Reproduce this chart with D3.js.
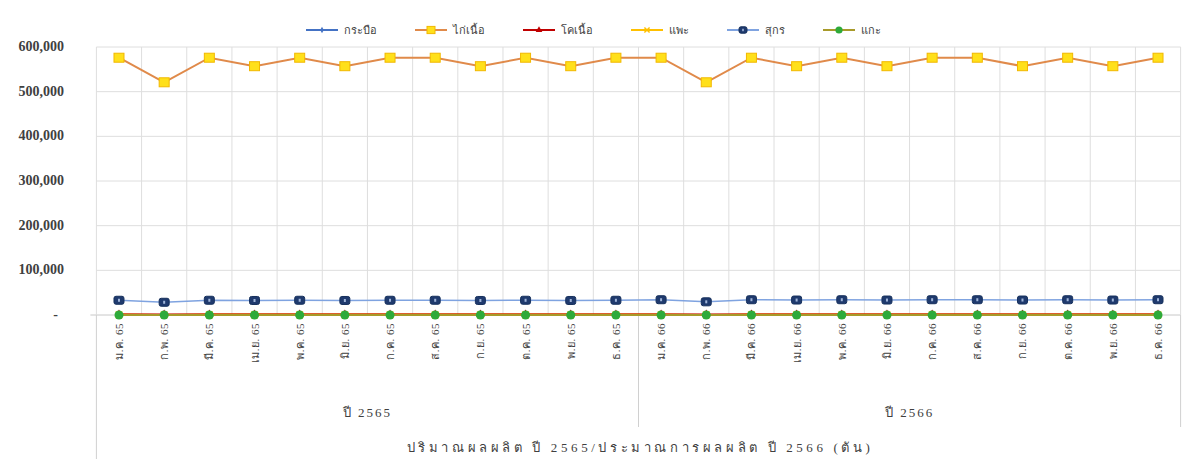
<!DOCTYPE html>
<html>
<head>
<meta charset="utf-8">
<script src="https://cdn.jsdelivr.net/npm/d3@7"></script>
<style>
  body { margin: 0; background: #fff; }
  svg { display: block; }
  .tick-lbl { font-family: "Liberation Serif", "DejaVu Serif", serif; font-weight: bold; font-size: 14px; fill: #404040; }
  .thai { font-family: "Liberation Serif", "Noto Sans", "DejaVu Sans", serif; fill: #404040; }
</style>
</head>
<body>
<svg id="chart"></svg>
<script>
// categories
const months = ['ม.ค.', 'ก.พ.', 'มี.ค.', 'เม.ย.', 'พ.ค.', 'มิ.ย.', 'ก.ค.', 'ส.ค.', 'ก.ย.', 'ต.ค.', 'พ.ย.', 'ธ.ค.'];
const years = ['2565', '2566'];
const yearShort = ['65', '66'];
const yTicks = [0, 100000, 200000, 300000, 400000, 500000, 600000];
const axisTitle = 'ปริมาณผลผลิต ปี 2565/ประมาณการผลผลิต ปี 2566 (ตัน)';

// series values (tons), 24 months: 2565 then 2566
const buffalo = [400, 360, 400, 390, 400, 390, 400, 400, 390, 400, 390, 400,
  400, 360, 400, 390, 400, 390, 400, 400, 390, 400, 390, 400];
const broiler = [576000, 521000, 576000, 557000, 576000, 557000, 576000, 576000, 557000, 576000, 557000, 576000,
  576000, 521000, 576000, 557000, 576000, 557000, 576000, 576000, 557000, 576000, 557000, 576000];
const beef = [1500, 1400, 1500, 1450, 1500, 1450, 1500, 1500, 1450, 1500, 1450, 1500,
  1500, 1400, 1500, 1450, 1500, 1450, 1500, 1500, 1450, 1500, 1450, 1500];
const goat = [300, 280, 300, 290, 300, 290, 300, 300, 290, 300, 290, 300,
  300, 280, 300, 290, 300, 290, 300, 300, 290, 300, 290, 300];
const pork = [33000, 28500, 33000, 32500, 33000, 32500, 33000, 33000, 32500, 33000, 32500, 33000,
  34200, 29500, 34200, 33500, 34200, 33500, 34200, 34200, 33500, 34200, 33500, 34200];
const sheep = [20, 18, 20, 19, 20, 19, 20, 20, 19, 20, 19, 20,
  20, 18, 20, 19, 20, 19, 20, 20, 19, 20, 19, 20];

const seriesNames = ['กระบือ', 'ไก่เนื้อ', 'โคเนื้อ', 'แพะ', 'สุกร', 'แกะ'];

const series = [
  { name: seriesNames[0], values: buffalo, line: '#4472C4', fill: '#4472C4', stroke: '#4472C4', marker: 'diamond', w: 1.5 },
  { name: seriesNames[1], values: broiler, line: '#E08A4A', fill: '#FFE01A', stroke: '#F2B800', marker: 'square', w: 2 },
  { name: seriesNames[2], values: beef, line: '#C00000', fill: '#C00000', stroke: '#C00000', marker: 'triangle', w: 2 },
  { name: seriesNames[3], values: goat, line: '#FFC000', fill: '#FFE699', stroke: '#FFC000', marker: 'cross', w: 2 },
  { name: seriesNames[4], values: pork, line: '#7FA3E0', fill: '#1F3A6E', stroke: '#1F3A6E', marker: 'pork', w: 1.5 },
  { name: seriesNames[5], values: sheep, line: '#A89A2A', fill: '#2EAA3A', stroke: '#2EAA3A', marker: 'circle', w: 2 },
];

const cats = [];
years.forEach((y, i) => months.forEach((m) => cats.push(`${m} ${yearShort[i]}`)));

const W = 1184;
const H = 459;
const margin = { top: 47, right: 3.4, bottom: 144, left: 96.4 };

const svg = d3.select('#chart').attr('width', W).attr('height', H);

const x = d3.scaleBand().domain(cats).range([margin.left, W - margin.right]).padding(0);
const y = d3.scaleLinear().domain([0, 600000]).range([H - margin.bottom, margin.top]);
const cx = (d) => x(d) + x.bandwidth() / 2;

// horizontal gridlines
svg.append('g')
  .selectAll('line')
  .data(yTicks)
  .join('line')
  .attr('x1', (d) => (d === 0 ? margin.left - 6 : margin.left))
  .attr('x2', W - margin.right)
  .attr('y1', (d) => y(d))
  .attr('y2', (d) => y(d))
  .attr('stroke', (d) => (d === 0 ? '#c8c8c8' : '#dedede'))
  .attr('stroke-width', 1);

// vertical gridlines at category boundaries
svg.append('g')
  .selectAll('line')
  .data(d3.range(cats.length + 1))
  .join('line')
  .attr('x1', (i) => margin.left + i * x.step())
  .attr('x2', (i) => margin.left + i * x.step())
  .attr('y1', y(600000))
  .attr('y2', y(0))
  .attr('stroke', '#dedede');

// category axis borders (multi-level)
const baseY = y(0);
svg.append('line').attr('x1', margin.left).attr('x2', margin.left)
  .attr('y1', baseY).attr('y2', H).attr('stroke', '#d0d0d0');
svg.append('line').attr('x1', margin.left + 12 * x.step()).attr('x2', margin.left + 12 * x.step())
  .attr('y1', baseY).attr('y2', baseY + 112).attr('stroke', '#d0d0d0');
svg.append('line').attr('x1', W - margin.right).attr('x2', W - margin.right)
  .attr('y1', baseY).attr('y2', baseY + 112).attr('stroke', '#d0d0d0');

// y tick labels
svg.append('g')
  .selectAll('text')
  .data(yTicks)
  .join('text')
  .attr('class', 'tick-lbl')
  .attr('x', (d) => (d === 0 ? 58 : 64))
  .attr('y', (d) => y(d) + 4)
  .attr('text-anchor', 'end')
  .text((d) => (d === 0 ? '-' : d3.format(',')(d)));

// month labels, rotated
svg.append('g')
  .selectAll('text')
  .data(cats)
  .join('text')
  .attr('class', 'thai')
  .attr('font-size', 11)
  .attr('letter-spacing', 0.5)
  .attr('text-anchor', 'end')
  .attr('transform', (d) => `translate(${cx(d) + 4},${baseY + 8}) rotate(-90)`)
  .text((d) => d);

// year labels
svg.append('g')
  .selectAll('text')
  .data(years)
  .join('text')
  .attr('class', 'thai')
  .attr('font-size', 13)
  .attr('letter-spacing', 2)
  .attr('text-anchor', 'middle')
  .attr('x', (d, i) => margin.left + (i * 12 + 6) * x.step())
  .attr('y', baseY + 102)
  .text((d) => `ปี ${d}`);

// axis title
svg.append('text')
  .attr('class', 'thai')
  .attr('font-size', 13)
  .attr('letter-spacing', 3.6)
  .attr('text-anchor', 'middle')
  .attr('x', 640)
  .attr('y', 452)
  .text(axisTitle);

// marker drawing
function drawMarker(g, s, size) {
  const k = size || 1;
  if (s.marker === 'square') {
    g.append('rect').attr('x', -5 * k).attr('y', -4.5 * k).attr('width', 10 * k).attr('height', 9 * k)
      .attr('fill', s.fill).attr('stroke', s.stroke).attr('stroke-width', 1);
  } else if (s.marker === 'pork') {
    g.append('rect').attr('x', -5 * k).attr('y', -4 * k).attr('width', 10 * k).attr('height', 8 * k)
      .attr('rx', 2).attr('fill', s.fill).attr('stroke', '#16305c');
    g.append('rect').attr('x', -1 * k).attr('y', -1.5 * k).attr('width', 2 * k).attr('height', 3 * k)
      .attr('fill', '#9fb4d8');
  } else if (s.marker === 'circle') {
    g.append('circle').attr('r', 4.5 * k).attr('fill', s.fill);
  } else if (s.marker === 'diamond') {
    g.append('path').attr('d', d3.symbol(d3.symbolDiamond, 18 * k * k)).attr('fill', s.fill);
  } else if (s.marker === 'triangle') {
    g.append('path').attr('d', d3.symbol(d3.symbolTriangle, 30 * k * k)).attr('fill', s.fill);
  } else if (s.marker === 'cross') {
    g.append('path').attr('d', d3.symbol(d3.symbolX, 30 * k * k)).attr('stroke', s.stroke).attr('stroke-width', 1.5);
  }
}

const line = d3.line().x((d, i) => cx(cats[i])).y((d) => y(d));

series.forEach((s) => {
  const g = svg.append('g');
  g.append('path')
    .datum(s.values)
    .attr('fill', 'none')
    .attr('stroke', s.line)
    .attr('stroke-width', s.w)
    .attr('d', line);
  s.values.forEach((v, i) => {
    const m = g.append('g').attr('transform', `translate(${cx(cats[i])},${y(v)})`);
    drawMarker(m, s);
  });
});

// legend
const legend = svg.append('g').attr('transform', 'translate(0,30)');
let lx = 306;
series.forEach((s) => {
  const item = legend.append('g').attr('transform', `translate(${lx},0)`);
  item.append('line').attr('x1', 0).attr('x2', 32).attr('stroke', s.line).attr('stroke-width', 2);
  const m = item.append('g').attr('transform', 'translate(16,0)');
  drawMarker(m, s, 0.8);
  const t = item.append('text')
    .attr('class', 'thai')
    .attr('font-size', 11)
    .attr('x', 38)
    .attr('y', 4)
    .text(s.name);
  lx += 38 + t.node().getComputedTextLength() + 38;
});
</script>
</body>
</html>
